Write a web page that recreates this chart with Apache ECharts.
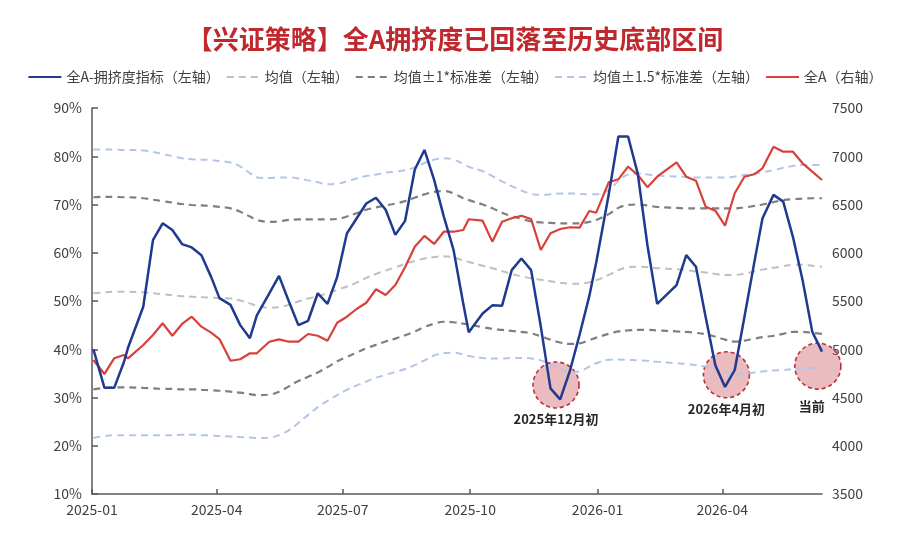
<!DOCTYPE html>
<html><head><meta charset="utf-8">
<script src="https://cdn.jsdelivr.net/npm/echarts@6/dist/echarts.min.js"></script>
<style>html,body{margin:0;padding:0;background:#fff}#c{width:910px;height:534px}</style>
</head><body><div id="c"></div>
<script>
// weekly dates (last trading day of each week)
const dates = [
'2025-01-02','2025-01-10','2025-01-17','2025-01-24','2025-01-27','2025-02-07','2025-02-14','2025-02-21','2025-02-28','2025-03-07',
'2025-03-14','2025-03-21','2025-03-28','2025-04-03','2025-04-11','2025-04-18','2025-04-25','2025-04-30','2025-05-09','2025-05-16',
'2025-05-23','2025-05-30','2025-06-06','2025-06-13','2025-06-20','2025-06-27','2025-07-04','2025-07-11','2025-07-18','2025-07-25',
'2025-08-01','2025-08-08','2025-08-15','2025-08-22','2025-08-29','2025-09-05','2025-09-12','2025-09-19','2025-09-26','2025-09-30',
'2025-10-10','2025-10-17','2025-10-24','2025-10-31','2025-11-07','2025-11-14','2025-11-21','2025-11-28','2025-12-05','2025-12-12',
'2025-12-19','2025-12-26','2025-12-31','2026-01-09','2026-01-16','2026-01-23','2026-01-30','2026-02-06','2026-02-13','2026-02-27',
'2026-03-06','2026-03-13','2026-03-20','2026-03-27','2026-04-03','2026-04-10','2026-04-17','2026-04-24','2026-04-30','2026-05-08',
'2026-05-15','2026-05-22','2026-05-29','2026-06-05','2026-06-12'];

// 全A-拥挤度指标 (%)
const crowding = [
40.0,32.0,32.0,37.3,40.3,48.8,62.6,66.1,64.7,61.8,
61.1,59.5,55.0,50.6,49.2,45.0,42.3,47.0,51.6,55.2,
50.0,45.0,45.9,51.6,49.4,55.0,64.0,67.1,70.2,71.4,
68.9,63.7,66.6,77.2,81.3,75.1,67.5,60.6,49.5,43.5,
47.4,49.1,49.0,56.4,58.8,56.4,44.7,31.9,29.6,35.5,
43.0,51.0,58.0,72.0,84.1,84.1,76.4,61.5,49.4,53.3,
59.5,57.1,46.7,36.7,32.2,35.7,46.7,57.8,67.1,72.0,
70.6,63.3,54.3,43.6,39.5];

// 均值 (%)
const meanVal = [
51.6,51.8,51.9,51.9,51.9,51.8,51.6,51.4,51.2,51.0,
50.9,50.8,50.7,50.6,50.5,50.1,49.5,49.0,48.6,48.7,
49.2,49.9,50.5,51.0,51.6,52.3,53.0,53.8,54.8,55.6,
56.3,57.0,57.7,58.3,58.8,59.1,59.3,59.0,58.4,58.1,
57.3,56.8,56.2,55.6,55.1,54.7,54.4,54.1,53.8,53.6,
53.6,53.9,54.3,55.4,56.4,57.0,57.1,57.0,56.8,56.6,
56.4,56.1,55.9,55.6,55.4,55.4,55.7,56.1,56.5,56.9,
57.2,57.5,57.5,57.3,57.1];

// 均值+1*标准差 (%)
const plus1 = [
71.5,71.6,71.6,71.5,71.5,71.3,71.0,70.7,70.4,70.1,
69.9,69.8,69.7,69.5,69.2,68.5,67.5,66.8,66.4,66.5,
66.8,66.9,66.9,66.9,66.9,67.0,67.5,68.2,68.9,69.4,
69.8,70.2,70.7,71.4,72.1,72.6,72.8,72.3,71.3,70.9,
70.0,69.2,68.3,67.6,67.0,66.5,66.3,66.2,66.1,66.1,
66.1,66.4,66.8,68.0,69.3,69.9,70.0,69.8,69.5,69.3,
69.2,69.2,69.2,69.2,69.2,69.2,69.4,69.7,70.0,70.5,
70.9,71.1,71.2,71.3,71.3];

// 均值-1*标准差 (%)
const minus1 = [
31.7,32.0,32.1,32.1,32.1,32.0,31.9,31.8,31.8,31.7,
31.7,31.6,31.5,31.4,31.2,31.0,30.7,30.5,30.6,31.2,
32.3,33.4,34.3,35.2,36.3,37.5,38.4,39.3,40.2,40.9,
41.6,42.2,42.9,43.7,44.6,45.3,45.7,45.6,45.3,45.1,
44.6,44.2,44.0,43.8,43.6,43.3,42.7,42.0,41.4,41.1,
41.2,41.9,42.4,43.2,43.7,43.9,44.0,44.0,43.9,43.7,
43.6,43.4,43.1,42.6,42.0,41.6,41.8,42.2,42.5,42.8,
43.2,43.6,43.6,43.4,43.2];

// 均值+1.5*标准差 (%)
const plus15 = [
81.4,81.4,81.4,81.3,81.3,81.2,80.9,80.5,80.0,79.6,
79.4,79.3,79.2,79.0,78.7,77.9,76.5,75.6,75.5,75.6,
75.6,75.4,75.0,74.6,74.2,74.3,74.8,75.4,75.9,76.2,
76.6,76.8,77.1,77.7,78.6,79.3,79.6,79.3,78.4,77.8,
76.9,75.9,74.8,73.8,72.9,72.2,72.0,72.1,72.3,72.3,
72.2,72.1,72.1,73.0,74.8,76.2,76.4,76.2,76.0,75.8,
75.7,75.6,75.6,75.6,75.6,75.8,76.1,76.4,76.7,77.1,
77.6,78.0,78.2,78.2,78.2];

// 均值-1.5*标准差 (%)
const minus15 = [
21.6,22.0,22.2,22.2,22.2,22.2,22.2,22.2,22.2,22.3,
22.3,22.2,22.1,22.0,21.9,21.8,21.7,21.6,21.7,22.2,
23.2,24.7,26.4,28.0,29.3,30.5,31.6,32.5,33.3,34.1,
34.7,35.3,35.9,36.7,37.7,38.7,39.2,39.3,38.9,38.6,
38.2,38.1,38.1,38.2,38.2,38.1,37.7,36.9,36.0,35.2,
35.4,36.4,37.1,37.8,37.9,37.8,37.7,37.6,37.4,37.1,
36.9,36.7,36.4,35.9,35.3,34.8,34.9,35.2,35.4,35.6,
35.7,35.9,36.1,36.1,36.0];

// 全A 指数 (右轴)
const allA = [
4889,4744,4906,4940,4906,5044,5148,5269,5140,5262,
5337,5234,5172,5106,4881,4896,4958,4958,5078,5103,
5078,5078,5158,5140,5089,5275,5337,5417,5482,5621,
5562,5666,5849,6063,6174,6091,6218,6218,6236,6347,
6332,6115,6322,6357,6384,6350,6029,6202,6246,6264,
6260,6433,6415,6730,6761,6892,6806,6680,6788,6937,
6788,6747,6477,6436,6281,6616,6788,6813,6875,7099,
7047,7047,6927,6840,6754];

const xTicks = ['2025-01-01','2025-04-01','2025-07-01','2025-10-01','2026-01-01','2026-04-01'];
const leftTicks = [10,20,30,40,50,60,70,80,90];
const rightTicks = [3500,4000,4500,5000,5500,6000,6500,7000,7500];

// annotations: [date, value(%), text]
const notes = [
  ['2025-12-02', 32.6, '2025年12月初'],
  ['2026-04-04', 34.7, '2026年4月初'],
  ['2026-06-09', 36.5, '当前']
];

const names = {
  crowd: '全A-拥挤度指标（左轴）',
  mean: '均值（左轴）',
  s1: '均值±1*标准差（左轴）',
  s15: '均值±1.5*标准差（左轴）',
  allA: '全A（右轴）'
};

const ts = s => Date.UTC(+s.slice(0, 4), +s.slice(5, 7) - 1, +s.slice(8, 10));
const pair = arr => dates.map((d, i) => [ts(d), arr[i]]);
const FONT = '"Noto Sans CJK SC", "Noto Sans", sans-serif';

function dashed(name, arr, color, width, dash) {
  return {
    name, type: 'line', data: pair(arr), yAxisIndex: 0, symbol: 'none', smooth: 0.4, z: 2,
    lineStyle: { color, width, type: dash }, itemStyle: { color }
  };
}

const chart = echarts.init(document.getElementById('c'), null, { renderer: 'canvas' });
chart.setOption({
  animation: false,
  backgroundColor: '#fff',
  textStyle: { fontFamily: FONT },
  title: {
    text: '【兴证策略】全A拥挤度已回落至历史底部区间',
    left: 'center', top: 21,
    textStyle: { fontSize: 26, fontWeight: 'bold', color: '#c0282e', fontFamily: FONT }
  },
  legend: {
    top: 65, left: 'center', itemWidth: 33, itemHeight: 10, itemGap: 6,
    itemStyle: { opacity: 0 },
    textStyle: { fontSize: 14, color: '#404040', fontFamily: FONT },
    data: [names.crowd, names.mean, names.s1, names.s15, names.allA]
  },
  grid: { left: 92, right: 88, top: 108, bottom: 40, containLabel: false },
  xAxis: {
    type: 'value', min: ts('2025-01-01'), max: ts(dates[dates.length - 1]),
    axisLine: { show: true, lineStyle: { color: '#595959', width: 1.5 } },
    axisTick: { show: true, inside: true, length: 5, customValues: xTicks.map(ts), lineStyle: { color: '#595959', width: 1.5 } },
    axisLabel: {
      customValues: xTicks.map(ts), fontSize: 14, color: '#404040', margin: 9, fontFamily: FONT,
      formatter: v => { const d = new Date(v); return d.getUTCFullYear() + '-' + String(d.getUTCMonth() + 1).padStart(2, '0'); }
    },
    splitLine: { show: false }
  },
  yAxis: [
    {
      type: 'value', min: leftTicks[0], max: leftTicks[leftTicks.length - 1], interval: 10, position: 'left',
      axisLine: { show: true, lineStyle: { color: '#595959', width: 1.5 } },
      axisTick: { show: true, inside: true, length: 6, lineStyle: { color: '#595959', width: 1.5 } },
      axisLabel: { formatter: '{value}%', fontSize: 14, color: '#404040', margin: 10, fontFamily: FONT },
      splitLine: { show: false }
    },
    {
      type: 'value', min: rightTicks[0], max: rightTicks[rightTicks.length - 1], interval: 500, position: 'right',
      axisLine: { show: false }, axisTick: { show: false },
      axisLabel: { formatter: v => String(v), fontSize: 14, color: '#404040', margin: 10, fontFamily: FONT },
      splitLine: { show: false }
    }
  ],
  series: [
    dashed(names.s15, plus15, '#b4c6e7', 2, [7, 5]),
    dashed(names.s15, minus15, '#b4c6e7', 2, [7, 5]),
    dashed(names.s1, plus1, '#7f7f7f', 2.2, [7, 5]),
    dashed(names.s1, minus1, '#7f7f7f', 2.2, [7, 5]),
    dashed(names.mean, meanVal, '#bfbfbf', 2, [7, 5]),
    {
      name: names.allA, type: 'line', data: pair(allA), yAxisIndex: 1, symbol: 'none', z: 3,
      lineStyle: { color: '#d8403a', width: 2.2 }, itemStyle: { color: '#d8403a' }
    },
    {
      name: names.crowd, type: 'line', data: pair(crowding), yAxisIndex: 0, symbol: 'none', z: 4,
      lineStyle: { color: '#1f3a8f', width: 2.5 }, itemStyle: { color: '#1f3a8f' },
      markPoint: {
        z: 1, silent: true, symbol: 'circle', symbolSize: 46,
        itemStyle: { color: 'rgba(208,105,112,0.45)', borderColor: '#b8323a', borderWidth: 1.6, borderType: [4, 3] },
        label: { show: true, position: 'bottom', distance: 4, fontSize: 13, fontWeight: 'bold', color: '#262626', fontFamily: FONT,
                 formatter: p => p.name },
        data: notes.map((n, i) => ({ name: n[2], coord: [ts(n[0]), n[1]],
                                     label: i === 2 ? { offset: [-6, 6] } : undefined }))
      }
    }
  ]
});
</script>
</body></html>
